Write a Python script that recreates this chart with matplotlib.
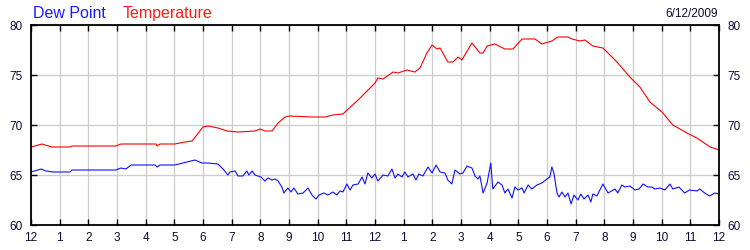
import matplotlib
matplotlib.use("Agg")
import matplotlib.pyplot as plt

plt.rcParams["font.family"] = ["Liberation Sans", "DejaVu Sans"]

# hours since midnight and readings (deg F)
temp_hours = [0.00, 0.38, 0.73, 1.36, 1.43, 2.96, 3.14, 4.36, 4.40, 4.50, 5.02,
              5.37, 5.62, 6.00, 6.17, 6.52, 6.84, 7.22, 7.81, 7.99, 8.16, 8.41,
              8.62, 8.86, 9.03, 9.80, 10.25, 10.53, 10.88, 11.48, 12.00, 12.10,
              12.28, 12.63, 12.80, 13.11, 13.39, 13.57, 13.81, 13.99, 14.16,
              14.27, 14.54, 14.72, 14.90, 15.03, 15.38, 15.66, 15.77, 15.91,
              16.18, 16.53, 16.81, 17.13, 17.58, 17.82, 18.17, 18.38, 18.73,
              18.87, 19.15, 19.32, 19.60, 19.95, 20.09, 20.44, 20.89, 21.24,
              21.59, 22.01, 22.39, 22.88, 23.23, 23.69, 24.00]
temperature = [67.8, 68.1, 67.8, 67.8, 67.9, 67.9, 68.1, 68.1, 67.9, 68.1, 68.1,
               68.3, 68.4, 69.8, 69.9, 69.7, 69.4, 69.3, 69.4, 69.6, 69.4, 69.4,
               70.2, 70.8, 70.9, 70.8, 70.8, 71.0, 71.1, 72.7, 74.2, 74.7,
               74.6, 75.3, 75.2, 75.5, 75.3, 75.7, 77.2, 78.0, 77.6,
               77.7, 76.3, 76.3, 76.8, 76.5, 78.2, 77.2, 77.2, 77.9,
               78.1, 77.6, 77.6, 78.6, 78.6, 78.1, 78.4, 78.8, 78.8,
               78.6, 78.4, 78.5, 77.9, 77.7, 77.3, 76.3, 74.8, 73.8,
               72.3, 71.3, 70.0, 69.2, 68.7, 67.8, 67.5]

dew_hours = [0.00, 0.35, 0.52, 0.77, 1.36, 1.43, 2.96, 3.14, 3.31, 3.49, 4.33,
             4.40, 4.50, 5.02, 5.72, 5.96, 6.17, 6.52, 6.70, 6.87, 6.94, 7.12,
             7.22, 7.39, 7.53, 7.60, 7.71, 7.81, 8.02, 8.16, 8.27, 8.41, 8.51,
             8.62, 8.75, 8.82, 8.96, 9.07, 9.17, 9.31, 9.49, 9.66, 9.80, 9.94,
             10.05, 10.22, 10.36, 10.53, 10.67, 10.78, 10.88, 11.02, 11.13,
             11.23, 11.41, 11.55, 11.65, 11.75, 11.89, 12.00, 12.10, 12.28,
             12.45, 12.59, 12.70, 12.80, 12.94, 13.04, 13.15, 13.32, 13.43,
             13.53, 13.67, 13.85, 13.99, 14.13, 14.27, 14.44, 14.54, 14.68,
             14.79, 14.96, 15.07, 15.21, 15.38, 15.49, 15.59, 15.66, 15.77,
             15.91, 16.04, 16.11, 16.29, 16.43, 16.53, 16.64, 16.78, 16.88,
             16.99, 17.13, 17.20, 17.34, 17.47, 17.65, 17.82, 18.00, 18.10,
             18.17, 18.24, 18.35, 18.42, 18.52, 18.63, 18.73, 18.84, 18.94,
             19.08, 19.18, 19.29, 19.43, 19.53, 19.60, 19.74, 19.95, 20.13,
             20.37, 20.47, 20.61, 20.72, 20.89, 21.07, 21.21, 21.35, 21.52,
             21.66, 21.76, 21.94, 22.11, 22.29, 22.39, 22.60, 22.80, 22.97,
             23.23, 23.33, 23.50, 23.67, 23.85, 24.00]
dew_point = [65.3, 65.6, 65.4, 65.3, 65.3, 65.5, 65.5, 65.7, 65.6, 66.0, 66.0,
             65.8, 66.0, 66.0, 66.5, 66.2, 66.2, 66.1, 65.6, 65.0, 65.3, 65.4,
             64.9, 64.9, 65.4, 65.0, 65.4, 65.0, 64.8, 64.4, 64.7, 64.5, 64.6,
             64.4, 63.8, 63.2, 63.7, 63.3, 63.7, 63.1, 63.2, 63.7, 63.0, 62.6,
             63.0, 63.2, 63.0, 63.3, 63.0, 63.4, 63.3, 64.1, 63.5,
             64.0, 64.1, 64.8, 64.1, 65.2, 64.7, 65.1, 64.4, 65.0,
             64.9, 65.6, 64.7, 65.1, 64.8, 65.3, 64.8, 65.1, 64.5,
             65.1, 64.9, 65.8, 65.2, 66.0, 65.3, 65.2, 64.5, 64.1,
             65.5, 65.1, 65.2, 65.9, 65.7, 64.9, 64.6, 64.9, 63.2,
             64.2, 66.2, 63.6, 64.3, 64.0, 63.2, 63.6, 62.7, 63.8,
             63.5, 63.7, 63.2, 64.0, 63.6, 64.0, 64.2, 64.6, 64.8,
             65.8, 65.2, 63.2, 62.8, 63.3, 62.8, 63.2, 62.1, 63.0,
             62.5, 63.1, 62.6, 63.0, 62.3, 63.1, 62.9, 64.1, 63.2,
             63.6, 63.2, 64.0, 63.8, 63.9, 63.5, 63.6, 64.1, 63.8,
             63.8, 63.6, 63.7, 63.5, 64.1, 63.6, 63.8, 63.2, 63.5,
             63.4, 63.6, 63.2, 62.9, 63.2, 63.1]

hour_labels = ["12", "1", "2", "3", "4", "5", "6", "7", "8", "9", "10", "11",
               "12", "1", "2", "3", "4", "5", "6", "7", "8", "9", "10", "11", "12"]
y_ticks = [60, 65, 70, 75, 80]
date_text = "6/12/2009"

label_color = "#0a0a33"


def main():
    fig = plt.figure(figsize=(7.5, 2.5), dpi=100)
    ax = fig.add_axes([31 / 750, 25 / 250, 688 / 750, 200 / 250])

    ax.plot(dew_hours, dew_point, color="#1010ff", linewidth=0.8)
    ax.plot(temp_hours, temperature, color="#ff0000", linewidth=0.8)

    ax.set_xlim(0, 24)
    ax.set_ylim(60, 80)
    ax.set_xticks(range(len(hour_labels)))
    ax.set_xticklabels(hour_labels)
    ax.set_yticks(y_ticks)
    ax.grid(True, color="#cccccc", linewidth=0.9)
    ax.set_axisbelow(True)

    for s in ax.spines.values():
        s.set_color("black")
        s.set_linewidth(1.3)

    ax.tick_params(axis="x", direction="in", length=4, width=1, top=True,
                   labelsize=8.5, labelcolor=label_color, pad=5)
    ax.tick_params(axis="y", direction="in", length=4, width=1, right=True,
                   labelright=True, labelsize=8.5, labelcolor=label_color, pad=6)

    fig.text(33 / 750, 1 - 18 / 250, "Dew Point", color="#1a1aff",
             fontsize=11.5, va="baseline")
    fig.text(123 / 750, 1 - 18 / 250, "Temperature", color="#ff1a1a",
             fontsize=11.5, va="baseline")
    fig.text(718 / 750, 1 - 17 / 250, date_text, color=label_color,
             fontsize=8.5, ha="right", va="baseline")

    fig.savefig("out.png", dpi=100)


if __name__ == "__main__":
    main()
